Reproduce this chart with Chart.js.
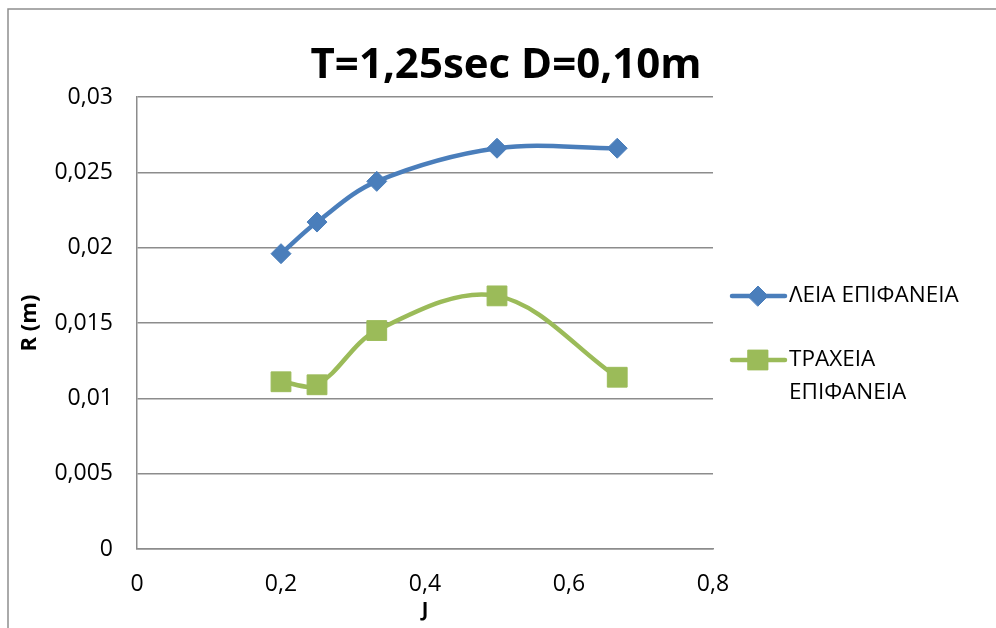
<!DOCTYPE html>
<html>
<head>
<meta charset="utf-8">
<script src="https://cdn.jsdelivr.net/npm/chart.js@4"></script>
<style>
  html, body { margin: 0; padding: 0; background: #ffffff; }
  canvas { display: block; }
</style>
</head>
<body>
<canvas id="chart" width="996" height="628"></canvas>
<script>
// Wave period T = 1.25 s, depth D = 0.10 m: runup R against J
const chartTitle = 'T=1,25sec D=0,10m';
const jValues = [0.2, 0.25, 0.333, 0.5, 0.667];
const smoothR = [0.0196, 0.0217, 0.0244, 0.0266, 0.0266];
const roughR = [0.0111, 0.0109, 0.0145, 0.0168, 0.0114];
const seriesNames = ['ΛΕΙΑ ΕΠΙΦΑΝΕΙΑ', ['ΤΡΑΧΕΙΑ', 'ΕΠΙΦΑΝΕΙΑ']];
const xTickLabels = ['0', '0,2', '0,4', '0,6', '0,8'];
const yTickLabels = ['0', '0,005', '0,01', '0,015', '0,02', '0,025', '0,03'];

const BLUE = '#4a7ebb';
const GREEN = '#9bbb59';
const GRID = '#8c8c8c';
const FONT = "'Open Sans', 'Noto Sans', sans-serif";

const toPoints = (xs, ys) => xs.map((x, i) => ({ x: x, y: ys[i] }));

// Frame, title and the side legend
const decorations = {
  id: 'decorations',
  beforeDraw(chart) {
    const ctx = chart.ctx;
    ctx.save();
    ctx.strokeStyle = '#8e8e8e';
    ctx.lineWidth = 1.5;
    ctx.beginPath();
    ctx.moveTo(8, chart.height);
    ctx.lineTo(8, 9);
    ctx.lineTo(chart.width, 9);
    ctx.stroke();
    ctx.restore();
  },
  afterDraw(chart) {
    const ctx = chart.ctx;
    ctx.save();
    ctx.fillStyle = '#000000';
    ctx.font = 'bold 42px ' + FONT;
    ctx.textAlign = 'center';
    ctx.textBaseline = 'alphabetic';
    ctx.fillText(chartTitle, 506, 78);

    const rows = [
      { y: 296, color: BLUE, style: 'rectRot', radius: 10, lines: [seriesNames[0]] },
      { y: 360, color: GREEN, style: 'rect', radius: 14, lines: seriesNames[1] }
    ];
    ctx.font = '22.5px ' + FONT;
    ctx.textAlign = 'left';
    ctx.textBaseline = 'middle';
    rows.forEach(r => {
      ctx.strokeStyle = r.color;
      ctx.lineWidth = 4.5;
      ctx.lineCap = 'round';
      ctx.beginPath();
      ctx.moveTo(732, r.y);
      ctx.lineTo(785, r.y);
      ctx.stroke();
      ctx.fillStyle = r.color;
      ctx.lineWidth = 1;
      Chart.helpers.drawPoint(ctx, { pointStyle: r.style, radius: r.radius, borderWidth: 1, rotation: 0 }, 758, r.y);
      ctx.fill();
      ctx.fillStyle = '#000000';
      r.lines.forEach((t, i) => ctx.fillText(t, 789, r.y + i * 33));
    });
    ctx.restore();
  }
};

new Chart(document.getElementById('chart'), {
  type: 'line',
  data: {
    datasets: [
      {
        label: seriesNames[0],
        data: toPoints(jValues, smoothR),
        borderColor: BLUE,
        backgroundColor: BLUE,
        borderWidth: 4.5,
        pointStyle: 'rectRot',
        pointRadius: 10,
        pointBorderWidth: 1,
        tension: 0.35,
        fill: false
      },
      {
        label: seriesNames[1].join(' '),
        data: toPoints(jValues, roughR),
        borderColor: GREEN,
        backgroundColor: GREEN,
        borderWidth: 4.5,
        pointStyle: 'rect',
        pointRadius: 14,
        pointBorderWidth: 1,
        tension: 0.35,
        fill: false
      }
    ]
  },
  options: {
    responsive: false,
    devicePixelRatio: 1,
    animation: false,
    layout: { padding: { left: 0, top: 97, right: 283, bottom: 0 } },
    plugins: {
      legend: { display: false },
      title: { display: false },
      tooltip: { enabled: false }
    },
    scales: {
      x: {
        type: 'linear',
        min: 0,
        max: 0.8,
        afterFit(scale) { scale.height = 79; },
        afterBuildTicks(scale) {
          scale.ticks = xTickLabels.map((_, i) => ({ value: i * 0.2 }));
        },
        grid: { display: false, drawTicks: false },
        border: { display: true, color: GRID, width: 1.5 },
        ticks: {
          padding: 22,
          color: '#000000',
          font: { family: FONT, size: 23 },
          maxRotation: 0,
          callback: (v, i) => xTickLabels[i]
        },
        title: {
          display: true,
          text: 'J',
          color: '#000000',
          font: { family: FONT, size: 20, weight: 'bold' },
          padding: { top: 0, bottom: 6 }
        }
      },
      y: {
        type: 'linear',
        min: 0,
        max: 0.03,
        afterFit(scale) { scale.width = 137; },
        afterBuildTicks(scale) {
          scale.ticks = yTickLabels.map((_, i) => ({ value: i * 0.005 }));
        },
        grid: { color: GRID, lineWidth: 1.5, drawTicks: false },
        border: { display: true, color: GRID, width: 1.5 },
        ticks: {
          padding: 24,
          color: '#000000',
          font: { family: FONT, size: 23 },
          callback: (v, i) => yTickLabels[i]
        },
        title: {
          display: true,
          text: 'R (m)',
          color: '#000000',
          font: { family: FONT, size: 22, weight: 'bold' },
          padding: { top: 17, bottom: 0 }
        }
      }
    }
  },
  plugins: [decorations]
});
</script>
</body>
</html>
